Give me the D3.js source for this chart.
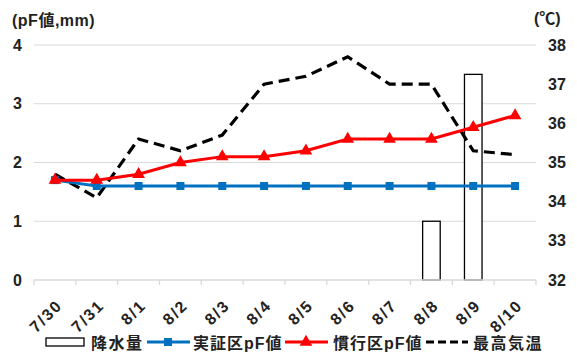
<!DOCTYPE html>
<html><head><meta charset="utf-8">
<script src="https://cdn.jsdelivr.net/npm/d3@7"></script>
<style>
body{margin:0;background:#fff;}
text{font-family:"Liberation Sans","Noto Sans CJK JP",sans-serif;font-weight:bold;fill:#222;}
</style></head><body>
<svg id="c" width="577" height="354"></svg>
<script>
const categories = ["7/30","7/31","8/1","8/2","8/3","8/4","8/5","8/6","8/7","8/8","8/9","8/10"];
const rain = [0,0,0,0,0,0,0,0,0,1.0,3.5,0];
const pfTest = [1.7,1.6,1.6,1.6,1.6,1.6,1.6,1.6,1.6,1.6,1.6,1.6];
const pfConv = [1.7,1.7,1.8,2.0,2.1,2.1,2.2,2.4,2.4,2.4,2.6,2.8];
const maxTemp = [34.7,34.1,35.6,35.3,35.7,37.0,37.2,37.7,37.0,37.0,35.3,35.2];
const leftTicks = [0,1,2,3,4];
const rightTicks = [32,33,34,35,36,37,38];
const legendNames = ["降水量","実証区pF値","慣行区pF値","最高気温"];

const svg = d3.select("#c");
const L=34, R=536, T=45, B=280;
const x = d3.scaleBand().domain(categories).range([L,R]);
const yL = d3.scaleLinear().domain([0,4]).range([B,T]);
const yR = d3.scaleLinear().domain([32,38]).range([B,T]);

// gridlines
svg.append("g").selectAll("line").data(leftTicks.filter(d=>d>0)).join("line")
  .attr("x1",L).attr("x2",R).attr("y1",d=>yL(d)).attr("y2",d=>yL(d))
  .attr("stroke","#d9d9d9").attr("stroke-width",1);

// bars
const bw = x.bandwidth()*0.42;
svg.append("g").selectAll("rect").data(categories.map((c,i)=>({c,v:rain[i]})).filter(d=>d.v>0)).join("rect")
  .attr("x",d=>x(d.c)+x.bandwidth()/2-bw/2).attr("width",bw)
  .attr("y",d=>yL(d.v)).attr("height",d=>yL(0)-yL(d.v))
  .attr("fill","#fff").attr("stroke","#000").attr("stroke-width",1.3);

// x axis
const xAxis = svg.append("g").attr("transform",`translate(0,${B})`);
xAxis.append("line").attr("x1",L).attr("x2",R).attr("stroke","#d9d9d9").attr("stroke-width",1.3);
xAxis.selectAll("line.t").data(d3.range(categories.length+1)).join("line").attr("class","t")
  .attr("x1",i=>L+i*x.step()).attr("x2",i=>L+i*x.step()).attr("y1",0).attr("y2",5)
  .attr("stroke","#d9d9d9").attr("stroke-width",1.3);
xAxis.selectAll("text").data(categories).join("text")
  .attr("transform",d=>`translate(${x(d)+x.bandwidth()/2},${18}) rotate(-45)`)
  .attr("text-anchor","end").attr("dy","0.75em").attr("font-size",16)
  .attr("letter-spacing",1.8).text(d=>d);

// axis labels
svg.append("g").selectAll("text").data(leftTicks).join("text")
  .attr("x",22).attr("y",d=>yL(d)).attr("dy","0.35em").attr("text-anchor","end")
  .attr("font-size",16).text(d=>d);
svg.append("g").selectAll("text").data(rightTicks).join("text")
  .attr("x",548).attr("y",d=>yR(d)).attr("dy","0.35em").attr("text-anchor","start")
  .attr("font-size",16).text(d=>d);
svg.append("text").attr("x",12).attr("y",20).attr("dy","0.35em").attr("font-size",16).attr("letter-spacing",0.5).text("(pF値,mm)");
svg.append("text").attr("x",534).attr("y",18).attr("dy","0.35em").attr("font-size",16).text("(℃)");

const cx = d=>x(d)+x.bandwidth()/2;
// temperature dashed
svg.append("path").datum(categories.map((c,i)=>[cx(c),yR(maxTemp[i])]))
  .attr("d",d3.line()).attr("fill","none").attr("stroke","#000").attr("stroke-width",3.2)
  .attr("stroke-dasharray","11,6");
// blue line
svg.append("path").datum(categories.map((c,i)=>[cx(c),yL(pfTest[i])]))
  .attr("d",d3.line()).attr("fill","none").attr("stroke","#0070c0").attr("stroke-width",3);
svg.append("g").selectAll("rect").data(categories.map((c,i)=>[cx(c),yL(pfTest[i])])).join("rect")
  .attr("x",d=>d[0]-4).attr("y",d=>d[1]-4).attr("width",8).attr("height",8).attr("fill","#0070c0");
// red line
svg.append("path").datum(categories.map((c,i)=>[cx(c),yL(pfConv[i])]))
  .attr("d",d3.line()).attr("fill","none").attr("stroke","#ff0000").attr("stroke-width",3);
const tri = d3.symbol().type(d3.symbolTriangle).size(70);
svg.append("g").selectAll("path").data(categories.map((c,i)=>[cx(c),yL(pfConv[i])])).join("path")
  .attr("d",tri).attr("transform",d=>`translate(${d[0]},${d[1]})`).attr("fill","#ff0000");

// legend
const lg = svg.append("g").attr("transform","translate(0,342)");
lg.append("rect").attr("x",46).attr("y",-4).attr("width",38).attr("height",8).attr("fill","#fff").attr("stroke","#000").attr("stroke-width",1.3);
lg.append("text").attr("x",91).attr("y",1).attr("dy","0.35em").attr("font-size",16).attr("letter-spacing",1.5).text(legendNames[0]);
lg.append("line").attr("x1",147).attr("x2",190).attr("stroke","#0070c0").attr("stroke-width",3);
lg.append("rect").attr("x",164).attr("y",-4).attr("width",8).attr("height",8).attr("fill","#0070c0");
lg.append("text").attr("x",193).attr("y",1).attr("dy","0.35em").attr("font-size",16).attr("letter-spacing",1).text(legendNames[1]);
lg.append("line").attr("x1",285).attr("x2",328).attr("stroke","#ff0000").attr("stroke-width",3);
lg.append("path").attr("d",tri).attr("transform","translate(306,0)").attr("fill","#ff0000");
lg.append("text").attr("x",333).attr("y",1).attr("dy","0.35em").attr("font-size",16).attr("letter-spacing",1).text(legendNames[2]);
lg.append("line").attr("x1",426).attr("x2",468).attr("stroke","#000").attr("stroke-width",3.2).attr("stroke-dasharray","8,4");
lg.append("text").attr("x",473).attr("y",1).attr("dy","0.35em").attr("font-size",16).attr("letter-spacing",1.5).text(legendNames[3]);
</script></body></html>
